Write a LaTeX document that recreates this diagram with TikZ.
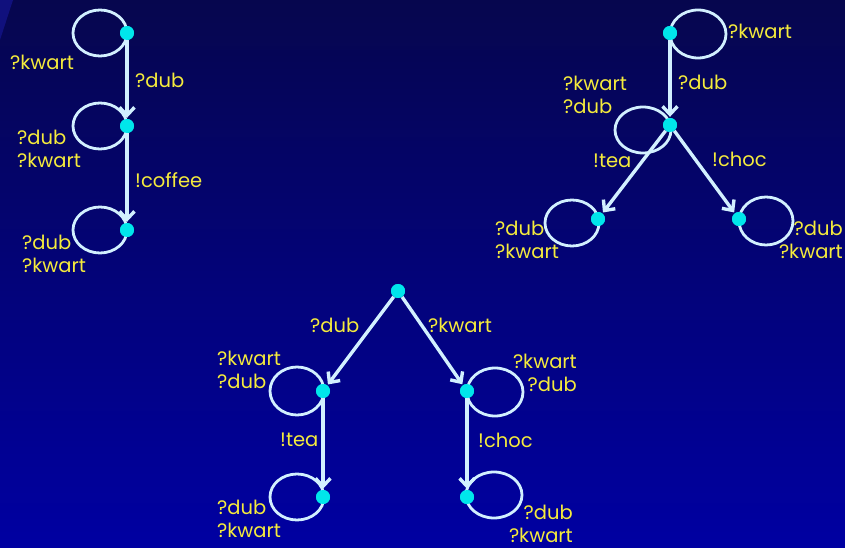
\documentclass[tikz,border=0pt]{standalone}
\usepackage{fontspec}
\setmainfont{Poppins}
\usetikzlibrary{arrows.meta}
\definecolor{bgtop}{RGB}{6,6,78}
\definecolor{bgbot}{RGB}{0,0,162}
\definecolor{bgcorner}{RGB}{16,16,125}
\definecolor{dotc}{RGB}{0,230,235}
\definecolor{linec}{RGB}{210,240,255}
\definecolor{txt}{RGB}{245,235,60}
\begin{document}
\begin{tikzpicture}[x=1bp,y=-1bp,
  st/.style={circle,fill=dotc,inner sep=0pt,minimum size=14bp},
  lbl/.style={text=txt,font=\fontsize{19.5bp}{23bp}\selectfont,inner sep=0pt,align=left},
  lblr/.style={lbl,align=right},
  tr/.style={draw=linec,line width=3.4bp,-{Straight Barb[length=8bp,width=15bp,line width=3.4bp]},shorten >=1bp},
  lp/.style={draw=linec,line width=2.8bp}]
\useasboundingbox (0,0) rectangle (845,548);
\shade[top color=bgtop,bottom color=bgbot] (0,0) rectangle (845,548);
\fill[bgcorner] (0,0) -- (13,0) -- (0,40) -- cycle;

% ---------- left diagram ----------
\node[st] (a1) at (127,33) {};
\node[st] (a2) at (127,126) {};
\node[st] (a3) at (127,230) {};
\draw[lp] ([xshift=-27bp]a1.center) ellipse (27bp and 23bp);
\draw[lp] ([xshift=-27bp]a2.center) ellipse (27bp and 23bp);
\draw[lp] ([xshift=-27bp]a3.center) ellipse (27bp and 23bp);
\draw[tr] (a1) -- (a2);
\draw[tr] (a2) -- (a3);
\node[lbl,anchor=west] (la1) at (10,62) {?kwart};
\node[lbl,anchor=west] (la12) at (135,80) {?dub};
\node[lbl,anchor=west] (la2) at (17,149) {?dub\\?kwart};
\node[lbl,anchor=west] (la23) at (135,180) {!coffee};
\node[lbl,anchor=west] (la3) at (22,254) {?dub\\?kwart};

% ---------- right top diagram ----------
\node[st] (b1) at (670,33) {};
\node[st] (b2) at (670,125) {};
\node[st] (b3) at (598,219) {};
\node[st] (b4) at (739,219) {};
\draw[lp] ([xshift=28bp,yshift=-1bp]b1.center) ellipse (28bp and 24bp);
\draw[lp] ([xshift=-27bp,yshift=-5bp]b2.center) ellipse (28bp and 23bp);
\draw[lp] ([xshift=-26bp,yshift=-4bp]b3.center) ellipse (27bp and 23bp);
\draw[lp] ([xshift=27bp,yshift=-2bp]b4.center) ellipse (27bp and 24bp);
\draw[tr] (b1) -- (b2);
\draw[tr] (b2) -- (b3);
\draw[tr] (b2) -- (b4);
\node[lbl,anchor=west] (lb1) at (728,31) {?kwart};
\node[lbl,anchor=west] (lb12) at (678,82) {?dub};
\node[lbl,anchor=west] (lb2) at (563,95) {?kwart\\?dub};
\node[lbl,anchor=west] (lb23) at (593,161) {!tea};
\node[lbl,anchor=west] (lb24) at (712,159) {!choc};
\node[lbl,anchor=west] (lb3) at (495,240) {?dub\\?kwart};
\node[lblr,anchor=east] (lb4) at (843,240) {?dub\\?kwart};

% ---------- bottom diagram ----------
\node[st] (c1) at (398,291) {};
\node[st] (c2) at (323,391) {};
\node[st] (c3) at (467,391) {};
\node[st] (c4) at (323,497) {};
\node[st] (c5) at (467,497) {};
\draw[lp] ([xshift=-26bp]c2.center) ellipse (27bp and 24bp);
\draw[lp] ([xshift=28bp,yshift=-1bp]c3.center) ellipse (28bp and 24bp);
\draw[lp] ([xshift=-26bp]c4.center) ellipse (27bp and 23bp);
\draw[lp] ([xshift=27bp,yshift=2bp]c5.center) ellipse (28bp and 23bp);
\draw[tr] (c1) -- (c2);
\draw[tr] (c1) -- (c3);
\draw[tr] (c2) -- (c4);
\draw[tr] (c3) -- (c5);
\node[lbl,anchor=west] (lc12) at (310,325) {?dub};
\node[lbl,anchor=west] (lc13) at (428,325) {?kwart};
\node[lbl,anchor=west] (lc2) at (217,370) {?kwart\\?dub};
\node[lblr,anchor=east] (lc3) at (577,373) {?kwart\\?dub};
\node[lbl,anchor=west] (lc24) at (280,440) {!tea};
\node[lbl,anchor=west] (lc35) at (478,440) {!choc};
\node[lbl,anchor=west] (lc4) at (217,519) {?dub\\?kwart};
\node[lblr,anchor=east] (lc5) at (573,524) {?dub\\?kwart};

% dots on top of the loops and arrows
\foreach \n in {a1,a2,a3,b1,b2,b3,b4,c1,c2,c3,c4,c5}
  \fill[dotc] (\n.center) circle (7bp);
\end{tikzpicture}
\end{document}
